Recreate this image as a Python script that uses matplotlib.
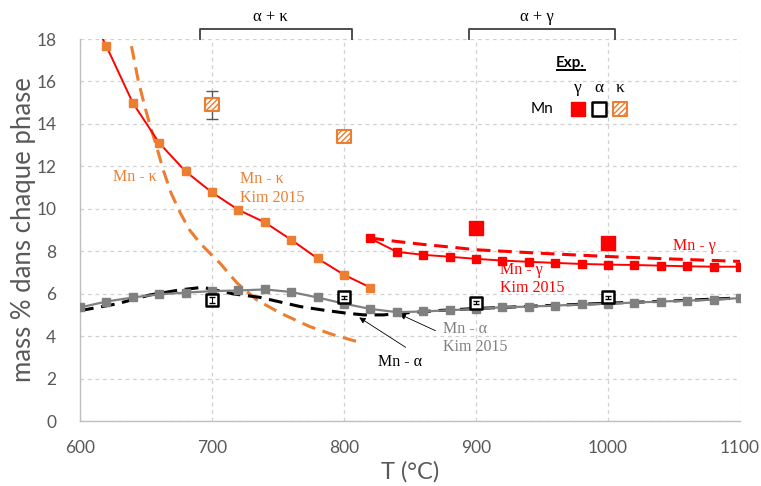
import matplotlib
matplotlib.use("Agg")
import matplotlib.pyplot as plt
import numpy as np

# ---------------- data ----------------
T_alpha_kim = [600, 620, 640, 660, 680, 700, 720, 740, 760, 780, 800, 820, 840,
               860, 880, 900, 920, 940, 960, 980, 1000, 1020, 1040, 1060, 1080, 1100]
mn_alpha_kim = [5.35, 5.63, 5.82, 5.97, 6.05, 6.12, 6.15, 6.20, 6.08, 5.82, 5.53, 5.28, 5.13,
                5.16, 5.22, 5.28, 5.36, 5.39, 5.44, 5.49, 5.53, 5.58, 5.63, 5.67, 5.72, 5.79]

T_kappa_kim = [600, 620, 640, 660, 680, 700, 720, 740, 760, 780, 800, 820]
mn_kappa_kim = [20.1, 17.66, 14.99, 13.1, 11.76, 10.77, 9.95, 9.36, 8.54, 7.66, 6.89, 6.29]

T_gamma_kim = [820, 840, 860, 880, 900, 920, 940, 960, 980, 1000, 1020, 1040, 1060, 1080, 1100]
mn_gamma_kim = [8.6, 7.97, 7.83, 7.74, 7.64, 7.56, 7.5, 7.45, 7.4, 7.37, 7.35, 7.32, 7.29, 7.27, 7.27]

T_gamma_calc = [820, 840, 860, 880, 900, 950, 1000, 1050, 1100]
mn_gamma_calc = [8.62, 8.46, 8.32, 8.2, 8.07, 7.9, 7.75, 7.63, 7.52]

T_kappa_calc = [639, 644, 649, 654, 658, 663, 669, 676, 683, 691, 700, 706, 719, 734, 752, 774, 792, 810]
mn_kappa_calc = [17.66, 16.08, 14.83, 13.73, 12.94, 11.84, 10.74, 9.8, 9.0, 8.38, 7.8, 7.44,
                 6.5, 5.7, 5.08, 4.45, 4.06, 3.74]

T_alpha_calc = [600, 628, 653, 676, 693, 716, 736, 767, 785, 802, 815, 830, 848, 870, 900, 950, 1000, 1050, 1100]
mn_alpha_calc = [5.2, 5.52, 5.94, 6.18, 6.3, 5.99, 5.83, 5.39, 5.22, 5.08, 5.0, 5.0, 5.1, 5.2,
                 5.3, 5.43, 5.55, 5.66, 5.8]

T_exp_gamma = [900, 1000]
mn_exp_gamma = [9.1, 8.38]
T_exp_alpha = [700, 800, 900, 1000]
mn_exp_alpha = [5.71, 5.82, 5.58, 5.83]
err_exp_alpha = [0.15, 0.08, 0.08, 0.08]
T_exp_kappa = [700, 800]
mn_exp_kappa = [14.9, 13.4]
err_exp_kappa = [0.66, 0.0]

phase_labels = ["α + κ", "α + γ"]
phase_ranges = [(691, 806), (895, 1005)]

x_ticks = [600, 700, 800, 900, 1000, 1100]
y_ticks = [0, 2, 4, 6, 8, 10, 12, 14, 16, 18]

# ---------------- style ----------------
RED = "#FF0000"
ORANGE = "#ED7D31"
GRAY = "#808080"
TXT = "#595959"
SANS = ["Lato", "DejaVu Sans"]
SERIF = ["Liberation Serif", "DejaVu Serif"]
plt.rcParams["hatch.color"] = ORANGE
plt.rcParams["hatch.linewidth"] = 1.0

fig = plt.figure(figsize=(7.61, 4.86), dpi=100)
ax = fig.add_axes([80 / 761, 65 / 486, 660 / 761, 382 / 486])

ax.set_xlim(600, 1100)
ax.set_ylim(0, 18)
ax.set_xticks(x_ticks)
ax.set_yticks(y_ticks)
ax.tick_params(length=0, labelsize=12.5, labelcolor=TXT, pad=14)
ax.tick_params(axis="y", pad=17)
for lab in ax.get_xticklabels() + ax.get_yticklabels():
    lab.set_family(SANS)
ax.grid(True, color="#d0d0d0", linestyle=(0, (3, 3)), linewidth=0.9)
ax.set_axisbelow(True)
for s in ["top", "right"]:
    ax.spines[s].set_visible(False)
for s in ["left", "bottom"]:
    ax.spines[s].set_color("#bfbfbf")
    ax.spines[s].set_linewidth(1.0)

# calc dashed curves
ax.plot(T_kappa_calc, mn_kappa_calc, color=ORANGE, lw=2.2, ls=(0, (4.5, 2.5)), zorder=3)
ax.plot(T_alpha_calc, mn_alpha_calc, color="black", lw=2.2, ls=(0, (4.5, 2.5)), zorder=3)
ax.plot(T_gamma_calc, mn_gamma_calc, color=RED, lw=2.2, ls=(0, (4.5, 2.5)), zorder=3)

# Kim 2015 lines
ax.plot(T_alpha_kim, mn_alpha_kim, color=GRAY, lw=1.6, marker="s", ms=5.4,
        mfc=GRAY, mec=GRAY, zorder=4)
ax.plot(T_kappa_kim, mn_kappa_kim, color=RED, lw=1.4, marker="s", ms=5.4,
        mfc=ORANGE, mec=ORANGE, zorder=4)
ax.plot(T_gamma_kim, mn_gamma_kim, color=RED, lw=1.4, marker="s", ms=5.4,
        mfc=RED, mec=RED, zorder=4)

# experimental points
ax.errorbar(T_exp_kappa, mn_exp_kappa, yerr=err_exp_kappa, fmt="none", ecolor="#595959",
            elinewidth=1.0, capsize=4, zorder=5)
ax.scatter(T_exp_kappa, mn_exp_kappa, marker="s", s=90, facecolor="white",
           edgecolor=ORANGE, hatch="//////", linewidth=1.5, zorder=6)
ax.scatter(T_exp_gamma, mn_exp_gamma, marker="s", s=95, color=RED, zorder=6)
ax.scatter(T_exp_alpha, mn_exp_alpha, marker="s", s=85, facecolor="white",
           edgecolor="black", linewidth=1.8, zorder=6)
ax.errorbar(T_exp_alpha, mn_exp_alpha, yerr=err_exp_alpha, fmt="none", ecolor="black",
            elinewidth=0.8, capsize=2.5, zorder=7)

# annotations
fs_ann = 11.5
ax.text(625, 11.5, "Mn - κ", color=ORANGE, fontsize=fs_ann, family=SERIF, ha="left", va="center")
ax.text(721, 10.95, "Mn - κ\nKim 2015", color=ORANGE, fontsize=fs_ann, family=SERIF,
        ha="left", va="center", linespacing=1.2)
ax.text(1049, 8.25, "Mn - γ", color=RED, fontsize=fs_ann, family=SERIF, ha="left", va="center")
ax.text(918, 6.7, "Mn - γ\nKim 2015", color=RED, fontsize=fs_ann, family=SERIF,
        ha="left", va="center", linespacing=1.2)
ax.text(875, 3.9, "Mn - α\nKim 2015", color=GRAY, fontsize=fs_ann, family=SERIF,
        ha="left", va="center", linespacing=1.2)
ax.text(826, 2.78, "Mn - α", color="black", fontsize=fs_ann, family=SERIF, ha="left", va="center")

ax.annotate("", xy=(809.8, 4.95), xytext=(848.5, 3.4),
            arrowprops=dict(arrowstyle="-|>", color="black", lw=0.6, mutation_scale=9))
ax.annotate("", xy=(840.2, 5.09), xytext=(871.2, 4.2),
            arrowprops=dict(arrowstyle="-|>", color="black", lw=0.6, mutation_scale=9))

# phase brackets above the axes
for lab, (x0, x1) in zip(phase_labels, phase_ranges):
    ax.plot([x0, x0, x1, x1], [18.0, 18.45, 18.45, 18.0], color="#404040", lw=1.3,
            clip_on=False, zorder=8)
    ax.text((x0 + x1) / 2 - 4, 19.05, lab, fontsize=12, family=SERIF, ha="center",
            va="center", clip_on=False)

# experimental legend (axes coordinates)
tr = ax.transAxes
ax.text(0.7424, 0.937, "Exp.", fontsize=11, family=SANS, weight="bold", ha="center",
        va="center", transform=tr)
ax.plot([0.7227, 0.7652], [0.9188, 0.9188], color="black", lw=1.4, transform=tr, clip_on=False)
lx = [0.7545, 0.7864, 0.8182]
for x, g in zip(lx, ["γ", "α", "κ"]):
    ax.text(x, 0.872, g, fontsize=12.5, family=SERIF, ha="center", va="center", transform=tr)
ax.text(0.7167, 0.8168, "Mn", fontsize=11, family=SANS, ha="right", va="center", transform=tr)
ax.scatter([lx[0]], [0.8168], marker="s", s=100, color=RED, transform=tr, zorder=6)
ax.scatter([lx[1]], [0.8168], marker="s", s=90, facecolor="white", edgecolor="black",
           linewidth=1.8, transform=tr, zorder=6)
ax.scatter([lx[2]], [0.8168], marker="s", s=95, facecolor="white", edgecolor=ORANGE,
           hatch="//////", linewidth=1.5, transform=tr, zorder=6)

# axis labels
fig.text(24 / 761, 1 - 230 / 486, "mass % dans chaque phase", rotation=90, fontsize=18.5,
         color=TXT, family=SANS, ha="center", va="center")
fig.text(410 / 761, 1 - 472 / 486, "T (°C)", fontsize=17, color=TXT, family=SANS,
         ha="center", va="center")

fig.savefig("out.png", dpi=100)
